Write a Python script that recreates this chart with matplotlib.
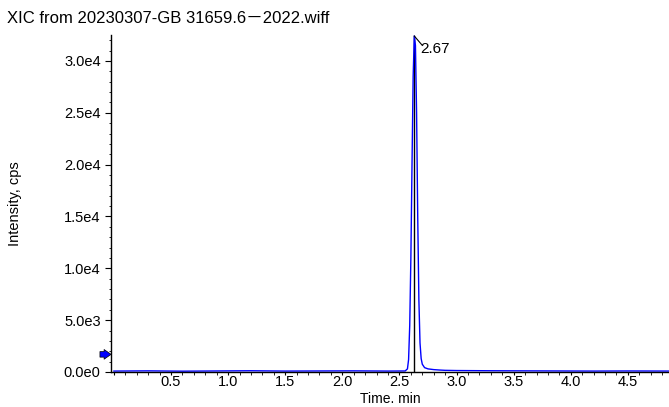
import numpy as np
import matplotlib
matplotlib.use("Agg")
import matplotlib.pyplot as plt
from matplotlib.ticker import MultipleLocator, FuncFormatter

plt.rcParams['font.family'] = ['Liberation Sans', 'Noto Sans CJK SC', 'DejaVu Sans']

# XIC trace (time in min, intensity in cps)
time = [0.00, 0.30, 0.60, 0.90, 1.20, 1.50, 1.80, 2.10, 2.40, 2.55, 2.57, 2.58,
        2.59, 2.60, 2.61, 2.62, 2.63, 2.64, 2.65, 2.66, 2.67, 2.68, 2.69, 2.70,
        2.72, 2.75, 2.80, 2.85, 2.90, 3.00, 3.30, 3.60, 3.90, 4.20, 4.50, 4.90]
intensity = [90, 110, 80, 100, 120, 90, 100, 110, 90, 100, 300, 1200,
             4500, 11000, 20000, 28500, 32400, 31500, 25000, 15000, 7000, 2800, 1300, 750,
             420, 300, 230, 190, 160, 140, 120, 110, 100, 90, 100, 90]

apex_time = 2.63
apex_value = 32400
apex_label = "2.67"
arrow_level = 1700

title = "XIC from 20230307-GB 31659.6\uff0d2022.wiff"

fig = plt.figure(figsize=(6.69, 4.07), dpi=100)
ax = fig.add_axes([0.166, 0.086, 0.834, 0.828])

# apex marker line, then the trace on top
ax.plot([apex_time, apex_time], [0, apex_value], color="black", lw=1.0)
ax.plot(time, intensity, color="blue", lw=1.0)
ax.plot([apex_time, apex_time + 0.07], [apex_value, apex_value - 900], color="black", lw=0.8)
ax.text(apex_time + 0.05, apex_value - 600, apex_label, fontsize=11, va="top", ha="left")

ax.set_xlim(-0.025, 4.86)
ax.set_ylim(0, 32500)

ax.xaxis.set_major_locator(MultipleLocator(0.5))
ax.xaxis.set_minor_locator(MultipleLocator(0.1))
ax.yaxis.set_major_locator(MultipleLocator(5000))
ax.yaxis.set_minor_locator(MultipleLocator(1000))

def sci(v, pos):
    if v == 0:
        return "0.0e0"
    e = int(np.floor(np.log10(abs(v))))
    return f"{v / 10**e:.1f}e{e}"

ax.yaxis.set_major_formatter(FuncFormatter(sci))
ax.xaxis.set_major_formatter(FuncFormatter(lambda v, p: "" if abs(v) < 1e-9 else f"{v:.1f}"))

for s in ["top", "right"]:
    ax.spines[s].set_visible(False)
ax.spines["left"].set_linewidth(1.0)
ax.spines["bottom"].set_linewidth(1.0)

ax.tick_params(axis="y", which="major", direction="out", length=4, width=0.8,
               labelsize=10.5, colors="black")
ax.tick_params(axis="x", which="major", direction="out", length=2.2, width=0.8,
               labelsize=10.5, pad=0.3, colors="black")
ax.tick_params(axis="both", which="minor", direction="out", length=1.8, width=0.6)

ax.set_xlabel("Time. min", fontsize=10, va="bottom")
ax.xaxis.set_label_coords(0.5, -0.1005)
ax.set_ylabel("Intensity, cps", fontsize=10.5, labelpad=30)
fig.text(0.010, 0.955, title, fontsize=12, ha="left", va="center")

# blue pointer arrow at the left spine
ax.annotate("", xy=(0, arrow_level), xycoords=("axes fraction", "data"),
            xytext=(-8, 0), textcoords="offset points",
            arrowprops=dict(arrowstyle="simple,head_width=0.7,head_length=0.5,tail_width=0.4",
                            facecolor="blue", edgecolor="black", lw=0.5,
                            shrinkA=0, shrinkB=0),
            annotation_clip=False)

fig.savefig("out.png", dpi=100)
